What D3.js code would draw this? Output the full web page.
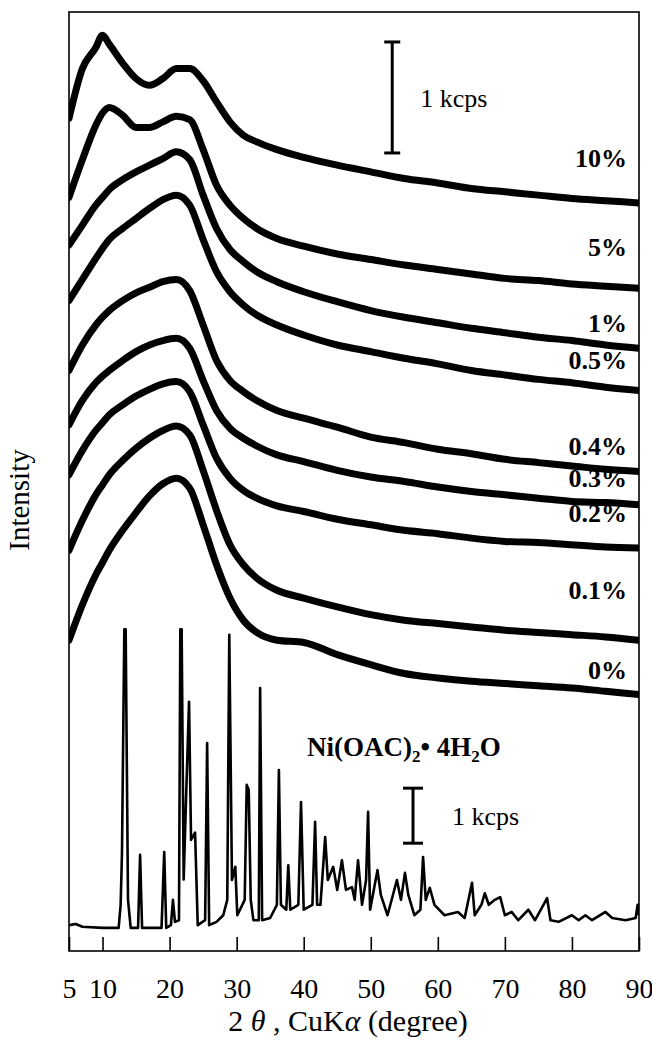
<!DOCTYPE html>
<html>
<head>
<meta charset="utf-8">
<script src="https://cdn.jsdelivr.net/npm/d3@7"></script>
<style>
  html, body { margin: 0; padding: 0; background: #fff; }
  svg { display: block; }
</style>
</head>
<body>
<svg id="chart" width="652" height="1044"></svg>
<script>
// ---------- DATA ----------
const xTicks = [5, 10, 20, 30, 40, 50, 60, 70, 80, 90];
const amorphAngles = [5, 7, 9, 10, 11, 13, 15, 17, 19, 21, 23, 25, 27, 29, 31, 33, 36, 40, 45, 50, 55, 60, 65, 70, 75, 80, 85, 90];
// stacked intensities, kcps (amorphous series share one intensity scale)
const int10  = [7.50, 7.95, 8.14, 8.25, 8.17, 8.00, 7.86, 7.80, 7.86, 7.95, 7.95, 7.84, 7.65, 7.47, 7.35, 7.29, 7.22, 7.15, 7.08, 7.02, 6.96, 6.92, 6.87, 6.84, 6.81, 6.78, 6.76, 6.74];
const int5   = [6.79, 7.13, 7.44, 7.55, 7.60, 7.53, 7.42, 7.42, 7.47, 7.52, 7.49, 7.22, 6.90, 6.72, 6.60, 6.51, 6.42, 6.35, 6.28, 6.23, 6.18, 6.14, 6.10, 6.06, 6.04, 6.01, 5.99, 5.97];
const int1   = [6.36, 6.54, 6.72, 6.79, 6.86, 6.95, 7.02, 7.08, 7.14, 7.20, 7.13, 6.81, 6.51, 6.32, 6.21, 6.12, 6.03, 5.94, 5.85, 5.77, 5.71, 5.66, 5.61, 5.57, 5.53, 5.50, 5.46, 5.43];
const int05  = [5.86, 6.05, 6.24, 6.33, 6.41, 6.51, 6.60, 6.69, 6.77, 6.81, 6.72, 6.41, 6.12, 5.94, 5.82, 5.73, 5.64, 5.55, 5.46, 5.40, 5.34, 5.29, 5.23, 5.19, 5.15, 5.12, 5.08, 5.05];
const int04  = [5.23, 5.46, 5.64, 5.71, 5.77, 5.86, 5.93, 5.98, 6.03, 6.05, 5.95, 5.64, 5.32, 5.14, 5.04, 4.96, 4.87, 4.80, 4.72, 4.63, 4.58, 4.52, 4.48, 4.43, 4.40, 4.37, 4.34, 4.32];
const int03  = [4.74, 4.96, 5.12, 5.18, 5.23, 5.32, 5.40, 5.46, 5.50, 5.52, 5.43, 5.14, 4.87, 4.71, 4.62, 4.55, 4.47, 4.41, 4.33, 4.27, 4.23, 4.18, 4.14, 4.11, 4.08, 4.05, 4.04, 4.02];
const int02  = [4.29, 4.51, 4.69, 4.76, 4.83, 4.92, 5.00, 5.06, 5.11, 5.13, 5.04, 4.74, 4.44, 4.26, 4.15, 4.08, 4.01, 3.96, 3.89, 3.84, 3.79, 3.76, 3.72, 3.69, 3.68, 3.66, 3.64, 3.63];
const int01  = [3.61, 3.88, 4.11, 4.20, 4.29, 4.42, 4.53, 4.62, 4.69, 4.73, 4.65, 4.33, 3.97, 3.66, 3.48, 3.36, 3.25, 3.18, 3.10, 3.03, 2.98, 2.95, 2.92, 2.89, 2.87, 2.85, 2.83, 2.80];
const int0   = [2.80, 3.12, 3.39, 3.50, 3.61, 3.79, 3.95, 4.10, 4.21, 4.26, 4.17, 3.84, 3.48, 3.18, 2.98, 2.87, 2.80, 2.78, 2.67, 2.58, 2.50, 2.46, 2.43, 2.41, 2.39, 2.37, 2.34, 2.31];
const seriesLabels = ["10%", "5%", "1%", "0.5%", "0.4%", "0.3%", "0.2%", "0.1%", "0%"];

// Ni(OAc)2·4H2O reference pattern (own intensity scale), kcps
const niAngles = [5, 6, 7, 10, 12.4, 12.7, 12.9, 13.25, 13.45, 13.8, 14.2, 15.3, 15.6, 15.9, 18.8, 19.2, 19.5, 20.2, 20.5, 20.8, 21.4, 21.6, 21.8, 22.1, 22.5, 22.9, 23.2, 23.8, 24.2, 25.3, 25.6, 25.9, 27, 28, 28.6, 28.9, 29.3, 29.8, 30.1, 31.2, 31.5, 31.8, 32.1, 32.5, 33.3, 33.5, 33.8, 35, 36, 36.3, 36.6, 37.4, 37.7, 38, 39.2, 39.6, 40, 41.3, 41.7, 42, 42.5, 43.2, 43.6, 44.4, 45, 45.7, 46.3, 47.2, 47.6, 48.1, 48.7, 49.3, 49.6, 49.9, 51, 51.5, 52.5, 53.9, 54.5, 55.1, 55.6, 56.5, 57.4, 57.8, 58.2, 58.8, 59.5, 61, 63, 64, 65.1, 65.5, 66.5, 67, 67.6, 68.5, 69.3, 70, 71, 72, 73.5, 74.5, 76.3, 76.8, 78, 80, 81, 82, 83, 85, 86, 88, 89.5, 89.8, 90];
const niCounts = [0.47, 0.49, 0.44, 0.42, 0.42, 0.84, 1.78, 5.85, 5.85, 0.93, 0.42, 0.42, 1.75, 0.42, 0.42, 1.80, 0.42, 0.47, 0.93, 0.53, 0.56, 5.85, 5.85, 1.30, 2.95, 4.53, 2.02, 2.15, 0.47, 0.56, 3.78, 0.47, 0.53, 0.65, 0.93, 5.75, 1.29, 1.53, 0.65, 0.93, 3.02, 2.93, 0.93, 0.56, 0.56, 4.78, 0.56, 0.60, 0.84, 3.29, 0.84, 0.75, 1.56, 0.75, 0.84, 2.71, 0.75, 0.84, 2.35, 0.84, 0.84, 2.07, 1.29, 1.53, 1.11, 1.65, 1.11, 1.16, 0.93, 1.65, 0.84, 1.29, 2.53, 0.75, 1.47, 1.02, 0.65, 1.29, 0.93, 1.42, 1.02, 0.65, 0.75, 1.71, 0.93, 1.15, 0.84, 0.65, 0.71, 0.60, 1.24, 0.65, 0.84, 1.05, 0.84, 0.93, 0.98, 0.65, 0.71, 0.56, 0.75, 0.56, 0.96, 0.56, 0.53, 0.65, 0.56, 0.65, 0.56, 0.71, 0.60, 0.56, 0.60, 0.84, 0.65];

// 1 kcps scale bars: [angle, start intensity]
const barAmorph = [53.2, 7.19];
const barNi = [56.3, 1.96];

// ---------- LAYOUT ----------
const L = 69, R = 639, T = 12, B = 951;
const svg = d3.select("#chart");
const serif = "'Liberation Serif', 'Times New Roman', Times, serif";

const x = d3.scaleLinear().domain([5, 90]).range([L, R]);
const yA = d3.scaleLinear().domain([0, 8.46]).range([B, T]);
const yN = d3.scaleLinear().domain([0, 17.07]).range([B, T]);

svg.append("rect").attr("width", 652).attr("height", 1044).attr("fill", "#fff");

svg.append("clipPath").attr("id", "clip")
  .append("rect").attr("x", L).attr("y", T).attr("width", R - L).attr("height", B - T);

const plot = svg.append("g").attr("clip-path", "url(#clip)");

const amorphSeries = [int10, int5, int1, int05, int04, int03, int02, int01, int0];
const lineA = d3.line()
  .x((d, i) => x(amorphAngles[i]))
  .y(d => yA(d))
  .curve(d3.curveMonotoneX);

plot.selectAll("path.amorph")
  .data(amorphSeries)
  .join("path")
  .attr("class", "amorph")
  .attr("d", d => lineA(d))
  .attr("fill", "none")
  .attr("stroke", "#000")
  .attr("stroke-width", 7)
  .attr("stroke-linejoin", "round")
  .attr("stroke-linecap", "round");

const lineN = d3.line()
  .x((d, i) => x(niAngles[i]))
  .y(d => yN(d));

plot.append("path")
  .attr("d", lineN(niCounts))
  .attr("fill", "none")
  .attr("stroke", "#000")
  .attr("stroke-width", 2.6)
  .attr("stroke-linejoin", "round");

// frame
svg.append("rect")
  .attr("x", L).attr("y", T).attr("width", R - L).attr("height", B - T)
  .attr("fill", "none").attr("stroke", "#000").attr("stroke-width", 1.6);

// x axis
const xAxis = svg.append("g")
  .attr("transform", `translate(0,${B})`)
  .call(d3.axisBottom(x).tickValues(xTicks).tickSize(-14).tickPadding(27).tickFormat(d3.format("d")));
xAxis.select(".domain").remove();
xAxis.selectAll(".tick line").attr("stroke", "#000").attr("stroke-width", 1.6);
xAxis.selectAll(".tick text")
  .attr("font-family", serif).attr("font-size", 28).attr("fill", "#000");

// x title
const title = svg.append("text")
  .attr("x", 348).attr("y", 1031)
  .attr("text-anchor", "middle")
  .attr("font-family", serif).attr("font-size", 30).attr("fill", "#000");
title.append("tspan").text("2 ");
title.append("tspan").attr("font-style", "italic").text("θ");
title.append("tspan").text(" , CuK");
title.append("tspan").attr("font-style", "italic").text("α");
title.append("tspan").text(" (degree)");

// y title
svg.append("text")
  .attr("transform", "translate(29,500) rotate(-90)")
  .attr("text-anchor", "middle")
  .attr("font-family", serif).attr("font-size", 29).attr("fill", "#000")
  .text("Intensity");

// series labels
const labelY = [158, 247, 323, 360, 446, 478, 513, 590, 670];
svg.selectAll("text.slabel")
  .data(seriesLabels)
  .join("text")
  .attr("class", "slabel")
  .attr("x", 627)
  .attr("y", (d, i) => labelY[i])
  .attr("dy", "0.35em")
  .attr("text-anchor", "end")
  .attr("font-family", serif).attr("font-weight", "bold").attr("font-size", 26)
  .attr("fill", "#000")
  .text(d => d);

// scale bars
function scaleBar(angle, v0, yScale, capHalf) {
  const g = svg.append("g").attr("stroke", "#000").attr("stroke-width", 3);
  const xb = x(angle);
  g.append("line").attr("x1", xb).attr("x2", xb).attr("y1", yScale(v0)).attr("y2", yScale(v0 + 1));
  g.append("line").attr("x1", xb - capHalf).attr("x2", xb + capHalf).attr("y1", yScale(v0)).attr("y2", yScale(v0));
  g.append("line").attr("x1", xb - capHalf).attr("x2", xb + capHalf).attr("y1", yScale(v0 + 1)).attr("y2", yScale(v0 + 1));
  return [xb, (yScale(v0) + yScale(v0 + 1)) / 2];
}
const [bx1, by1] = scaleBar(barAmorph[0], barAmorph[1], yA, 8);
svg.append("text").attr("x", bx1 + 28).attr("y", by1).attr("dy", "0.35em")
  .attr("font-family", serif).attr("font-size", 26).attr("fill", "#000").text("1 kcps");
const [bx2, by2] = scaleBar(barNi[0], barNi[1], yN, 10);
svg.append("text").attr("x", bx2 + 39).attr("y", by2).attr("dy", "0.35em")
  .attr("font-family", serif).attr("font-size", 26).attr("fill", "#000").text("1 kcps");

// compound label
const ni = svg.append("text")
  .attr("x", 307).attr("y", 756)
  .attr("font-family", serif).attr("font-weight", "bold").attr("font-size", 27).attr("fill", "#000");
ni.append("tspan").text("Ni(OAC)");
ni.append("tspan").attr("font-size", 17).attr("dy", 6).text("2");
ni.append("tspan").attr("dy", -6).text("• 4H");
ni.append("tspan").attr("font-size", 17).attr("dy", 6).text("2");
ni.append("tspan").attr("dy", -6).text("O");
</script>
</body>
</html>
